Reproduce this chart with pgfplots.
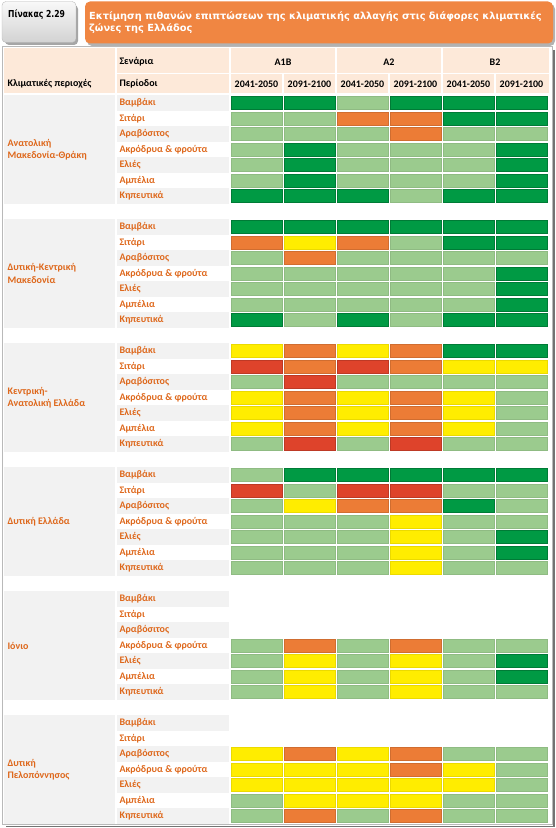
\documentclass[border=0pt]{standalone}
\usepackage{pgfplots}
\usepackage{pgfplotstable}
\pgfplotsset{compat=1.18}
\usepackage{fontspec}
\setmainfont{Carlito}
\newfontfamily\titlefont{DejaVu Sans}
\definecolor{dkg}{RGB}{0,154,68}
\definecolor{ltg}{RGB}{155,203,142}
\definecolor{yel}{RGB}{255,237,0}
\definecolor{org}{RGB}{236,124,54}
\definecolor{rd}{RGB}{222,67,43}
\definecolor{peach}{RGB}{253,233,217}
\definecolor{lgray}{RGB}{242,242,242}
\definecolor{txtorg}{RGB}{222,104,28}
\definecolor{ttlorg}{RGB}{240,134,66}
\pgfdeclareplotmark{cell}{%
  \pgfsetlinewidth{0.5pt}%
  \pgfpathrectangle{\pgfpoint{-25.3pt}{-6.6pt}}{\pgfpoint{50.6pt}{13.2pt}}%
  \pgfusepathqfillstroke}
% codes: 0 none, 1 dark green, 2 light green, 3 yellow, 4 orange, 5 red
\pgfplotstableread{
reg row c1 c2 c3 c4 c5 c6
0 0 1 1 2 1 1 1
0 1 2 2 4 4 1 1
0 2 2 2 2 4 2 2
0 3 2 1 2 2 2 1
0 4 2 1 2 2 2 1
0 5 2 1 2 2 2 1
0 6 1 1 1 2 1 1
1 0 1 1 1 1 1 1
1 1 4 3 4 2 1 1
1 2 2 4 2 2 2 2
1 3 2 2 2 2 2 1
1 4 2 2 2 2 2 1
1 5 2 2 2 2 2 1
1 6 1 2 1 2 1 1
2 0 3 4 3 4 1 1
2 1 5 4 5 4 3 3
2 2 2 5 2 2 2 2
2 3 3 4 3 4 3 2
2 4 3 4 3 4 3 2
2 5 3 4 3 4 3 2
2 6 2 5 2 5 2 2
3 0 2 1 1 1 1 1
3 1 5 2 5 5 2 2
3 2 2 3 4 4 1 2
3 3 2 2 2 3 2 2
3 4 2 2 2 3 2 1
3 5 2 2 2 3 2 1
3 6 2 2 2 3 2 2
4 0 0 0 0 0 0 0
4 1 0 0 0 0 0 0
4 2 0 0 0 0 0 0
4 3 2 4 2 4 2 2
4 4 2 3 2 3 2 1
4 5 2 3 2 3 2 1
4 6 2 3 2 3 2 2
5 0 0 0 0 0 0 0
5 1 0 0 0 0 0 0
5 2 3 4 3 4 2 2
5 3 3 3 3 4 3 2
5 4 3 3 3 3 3 2
5 5 2 3 3 3 2 2
5 6 2 4 2 4 2 2
}\cells
\begin{document}
\begin{tikzpicture}
\useasboundingbox (0,0) rectangle (556pt,828pt);
\begin{scope}[x=1pt,y=-1pt,yshift=828pt]
  % caption boxes
  \fill[black!35, rounded corners=4pt] (5,5) rectangle (78,45);
  \shade[top color=gray!5, bottom color=gray!35, rounded corners=4pt, draw=gray!55] (2,1.5) rectangle (76,42.5);
  \node[anchor=west, inner sep=0pt] at (8,15) {\scalebox{0.8}[1]{\titlefont\bfseries\fontsize{9.6}{10}\selectfont Πίνακας 2.29}};
  \fill[black!30, rounded corners=5pt] (87,4) rectangle (555,46);
  \fill[ttlorg, rounded corners=5pt] (85,1.5) rectangle (553,43.5);
  \node[anchor=north west, align=left, inner sep=0pt, text=white,
        font=\titlefont\bfseries\fontsize{9.8}{12}\selectfont] at (89,11)
    {Εκτίμηση πιθανών επιπτώσεων της κλιματικής αλλαγής στις διάφορες κλιματικές\\ζώνες της Ελλάδος};
  % table frame with shadow
  \draw[black!55, line width=1.4pt] (554,50) -- (554,826.5) -- (6,826.5);
  \draw[gray!55, line width=0.6pt] (2.5,46.5) rectangle (552,824.5);
  % header band
  \fill[peach] (4,48.5) rectangle (549,93.5);
  \draw[white, line width=1.6pt] (116.2,48) -- (116.2,94) (229.8,48) -- (229.8,94)
     (336,48) -- (336,94) (442,48) -- (442,94) (117,73.5) -- (549,73.5)
     (283,73.5) -- (283,94) (389,73.5) -- (389,94) (495,73.5) -- (495,94);
  \begin{scope}[font=\bfseries\fontsize{10}{12}\selectfont]
    \node[anchor=west] at (116,62) {Σενάρια};
    \node[anchor=west] at (116,84) {Περίοδοι};
    \node[anchor=west] at (4,84) {Κλιματικές περιοχές};
    \node at (283,62) {A1B};
    \node at (389,62) {A2};
    \node at (495,62) {B2};
    \foreach \c in {0,...,5} {
      \pgfmathsetmacro\xc{256.5+53*\c}
      \pgfmathparse{mod(\c,2)==0 ? 1 : 0}
      \ifnum\pgfmathresult=1
        \node at (\xc,84) {2041-2050};
      \else
        \node at (\xc,84) {2091-2100};
      \fi
    }
  \end{scope}
  % region backgrounds and labels
  \foreach \lab [count=\r from 0] in {{Ανατολική\\Μακεδονία-Θράκη},{Δυτική-Κεντρική\\Μακεδονία},{Κεντρική-\\Ανατολική Ελλάδα},{Δυτική Ελλάδα},{Ιόνιο},{Δυτική\\Πελοπόννησος}} {
    \pgfmathsetmacro\top{95.25+124*\r}
    \pgfmathsetmacro\bot{\top+108.5}
    \fill[lgray] (4,\top) rectangle (115.4,\bot);
    \foreach \i in {0,2,4,6} {
      \pgfmathsetmacro\ra{\top+15.5*\i}
      \pgfmathsetmacro\rb{\ra+15.5}
      \fill[lgray] (117,\ra) rectangle (229,\rb);
    }
    \pgfmathsetmacro\mid{103+124*\r+46.5}
    \node[anchor=west, align=left, text=txtorg, font=\bfseries\fontsize{10}{12.5}\selectfont] at (4,\mid) {\lab};
    \foreach \crop [count=\i from 0] in {Βαμβάκι,Σιτάρι,Αραβόσιτος,Ακρόδρυα \& φρούτα,Ελιές,Αμπέλια,Κηπευτικά} {
      \pgfmathsetmacro\yy{103+124*\r+15.5*\i}
      \node[anchor=west, text=txtorg, font=\bfseries\fontsize{10}{12}\selectfont] at (116,\yy) {\crop};
    }
  }
\end{scope}
\begin{axis}[at={(0,0)}, anchor=south west, x=1pt, y=1pt, y dir=reverse,
  xmin=0, xmax=556, ymin=0, ymax=828, hide axis, clip=false,
  cellplot/.style={scatter, only marks, mark=cell, scatter src=explicit symbolic,
    scatter/classes={
      0={fill=white,draw=white},
      1={fill=dkg,draw=dkg!80!black},
      2={fill=ltg,draw=ltg!92!black},
      3={fill=yel,draw=yel!92!black},
      4={fill=org,draw=org!88!black},
      5={fill=rd,draw=rd!85!black}}}]
\pgfplotsinvokeforeach{1,...,6}{
  \addplot[cellplot] table[x expr={203.5+53*#1}, y expr={103+124*\thisrow{reg}+15.5*\thisrow{row}}, meta=c#1] {\cells};
}
\end{axis}
\end{tikzpicture}
\end{document}
